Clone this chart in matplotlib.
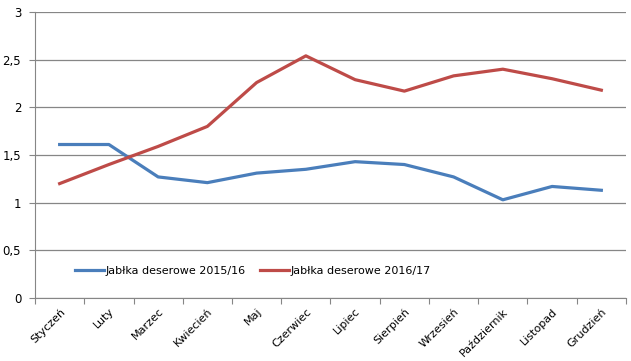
import matplotlib.pyplot as plt

months = ["Styczeń", "Luty", "Marzec", "Kwiecień", "Maj", "Czerwiec",
          "Lipiec", "Sierpień", "Wrzesień", "Październik", "Listopad", "Grudzień"]
apples_1516 = [1.61, 1.61, 1.27, 1.21, 1.31, 1.35, 1.43, 1.40, 1.27, 1.03, 1.17, 1.13]
apples_1617 = [1.20, 1.40, 1.59, 1.80, 2.26, 2.54, 2.29, 2.17, 2.33, 2.40, 2.30, 2.18]
y_ticks = [0, 0.5, 1, 1.5, 2, 2.5, 3]
y_labels = ["0", "0,5", "1", "1,5", "2", "2,5", "3"]

fig = plt.figure(figsize=(6.31, 3.61), dpi=100)
ax = fig.add_axes([0.0555, 0.1745, 0.9365, 0.7923])

x = list(range(len(months)))
ax.plot(x, apples_1516, color="#4A7EBB", lw=2.3, label="Jabłka deserowe 2015/16")
ax.plot(x, apples_1617, color="#BE4B48", lw=2.3, label="Jabłka deserowe 2016/17")

ax.set_xlim(-0.5, len(months) - 0.5)
ax.set_ylim(0, 3)
ax.set_yticks(y_ticks)
ax.set_yticklabels(y_labels, fontsize=8.5)
ax.grid(axis="y", color="#868686", lw=0.9)
ax.set_axisbelow(True)

# ticks between categories, labels in the middle
ax.set_xticks([i - 0.5 for i in range(len(months) + 1)])
ax.set_xticklabels([])
ax.set_xticks(x, minor=True)
ax.set_xticklabels(months, minor=True, rotation=45, ha="right",
                   rotation_mode="anchor", fontsize=8)
ax.tick_params(axis="x", which="major", length=4, color="#868686")
ax.tick_params(axis="x", which="minor", length=0, pad=6)
ax.tick_params(axis="y", length=4, color="#868686", pad=6)

for s in ["top", "right"]:
    ax.spines[s].set_visible(False)
ax.spines["left"].set_color("#868686")
ax.spines["bottom"].set_color("#868686")

ax.legend(loc="center left", bbox_to_anchor=(0.067, 0.094), ncol=2, frameon=False,
          fontsize=8, handlelength=2.6, columnspacing=1.3, handletextpad=0.15,
          borderpad=0, borderaxespad=0)

fig.savefig("out.png", dpi=100)
